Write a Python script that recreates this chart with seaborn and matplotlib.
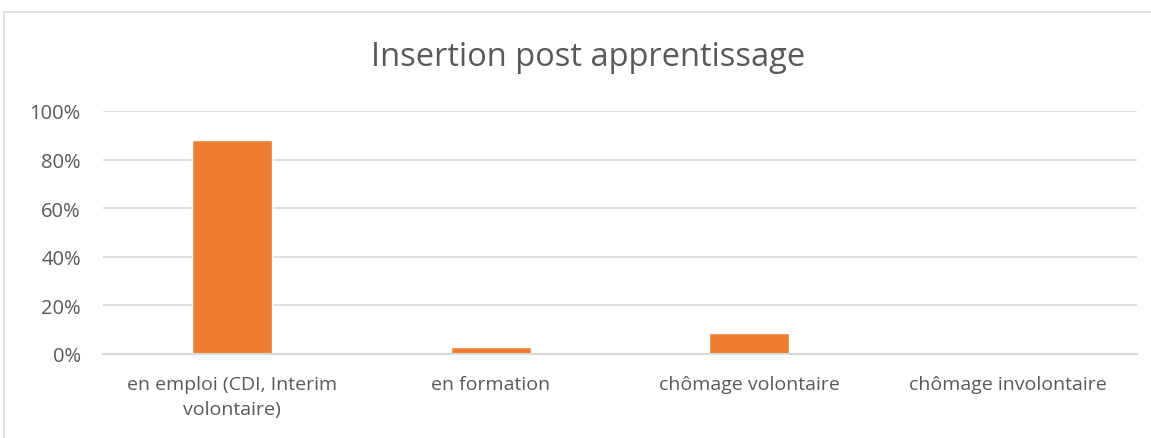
import matplotlib
matplotlib.use("Agg")
import matplotlib.pyplot as plt
import matplotlib.patches as mpatches
from matplotlib.ticker import PercentFormatter
import pandas as pd
import seaborn as sns

# --- data ---
categories = ["en emploi (CDI, Interim\nvolontaire)", "en formation",
              "chômage volontaire", "chômage involontaire"]
values = [0.88, 0.03, 0.087, 0.0]

df = pd.DataFrame({"categorie": categories, "part": values})

sns.set_theme(style="white")
plt.rcParams["font.family"] = ["Open Sans", "DejaVu Sans"]

W, H = 1151, 439
fig = plt.figure(figsize=(W / 100, H / 100), dpi=100)
ax = fig.add_axes([103 / W, 1 - 355 / H, (1137 - 103) / W, (355 - 112) / H])

sns.barplot(data=df, x="categorie", y="part", color="#ED7D31", saturation=1,
            width=0.31, ax=ax)

ax.set_ylim(0, 1)
ax.set_yticks([0, 0.2, 0.4, 0.6, 0.8, 1.0])
ax.yaxis.set_major_formatter(PercentFormatter(1.0, decimals=0))
ax.yaxis.grid(True, color="#D9D9D9", linewidth=1.2)
ax.set_axisbelow(True)
for s in ["top", "right", "left"]:
    ax.spines[s].set_visible(False)
ax.spines["bottom"].set_color("#D9D9D9")
ax.spines["bottom"].set_linewidth(1.5)
ax.tick_params(axis="y", length=0, colors="#595959", labelsize=14.5, pad=16)
ax.tick_params(axis="x", length=0, colors="#595959", labelsize=14, pad=15)
for lbl in ax.get_xticklabels():
    lbl.set_linespacing(1.5)
ax.set_xlabel("")
ax.set_ylabel("")

fig.text(588 / W, 1 - 57 / H, "Insertion post apprentissage", ha="center",
         va="center", fontsize=23.5, color="#595959")

# chart frame
fig.patches.append(mpatches.Rectangle((4 / W, -0.1), 1.2, 1.1 - 13 / H,
                                      transform=fig.transFigure, fill=False,
                                      edgecolor="#D9D9D9", linewidth=1.2))

fig.savefig("out.png", dpi=100, facecolor="white")
